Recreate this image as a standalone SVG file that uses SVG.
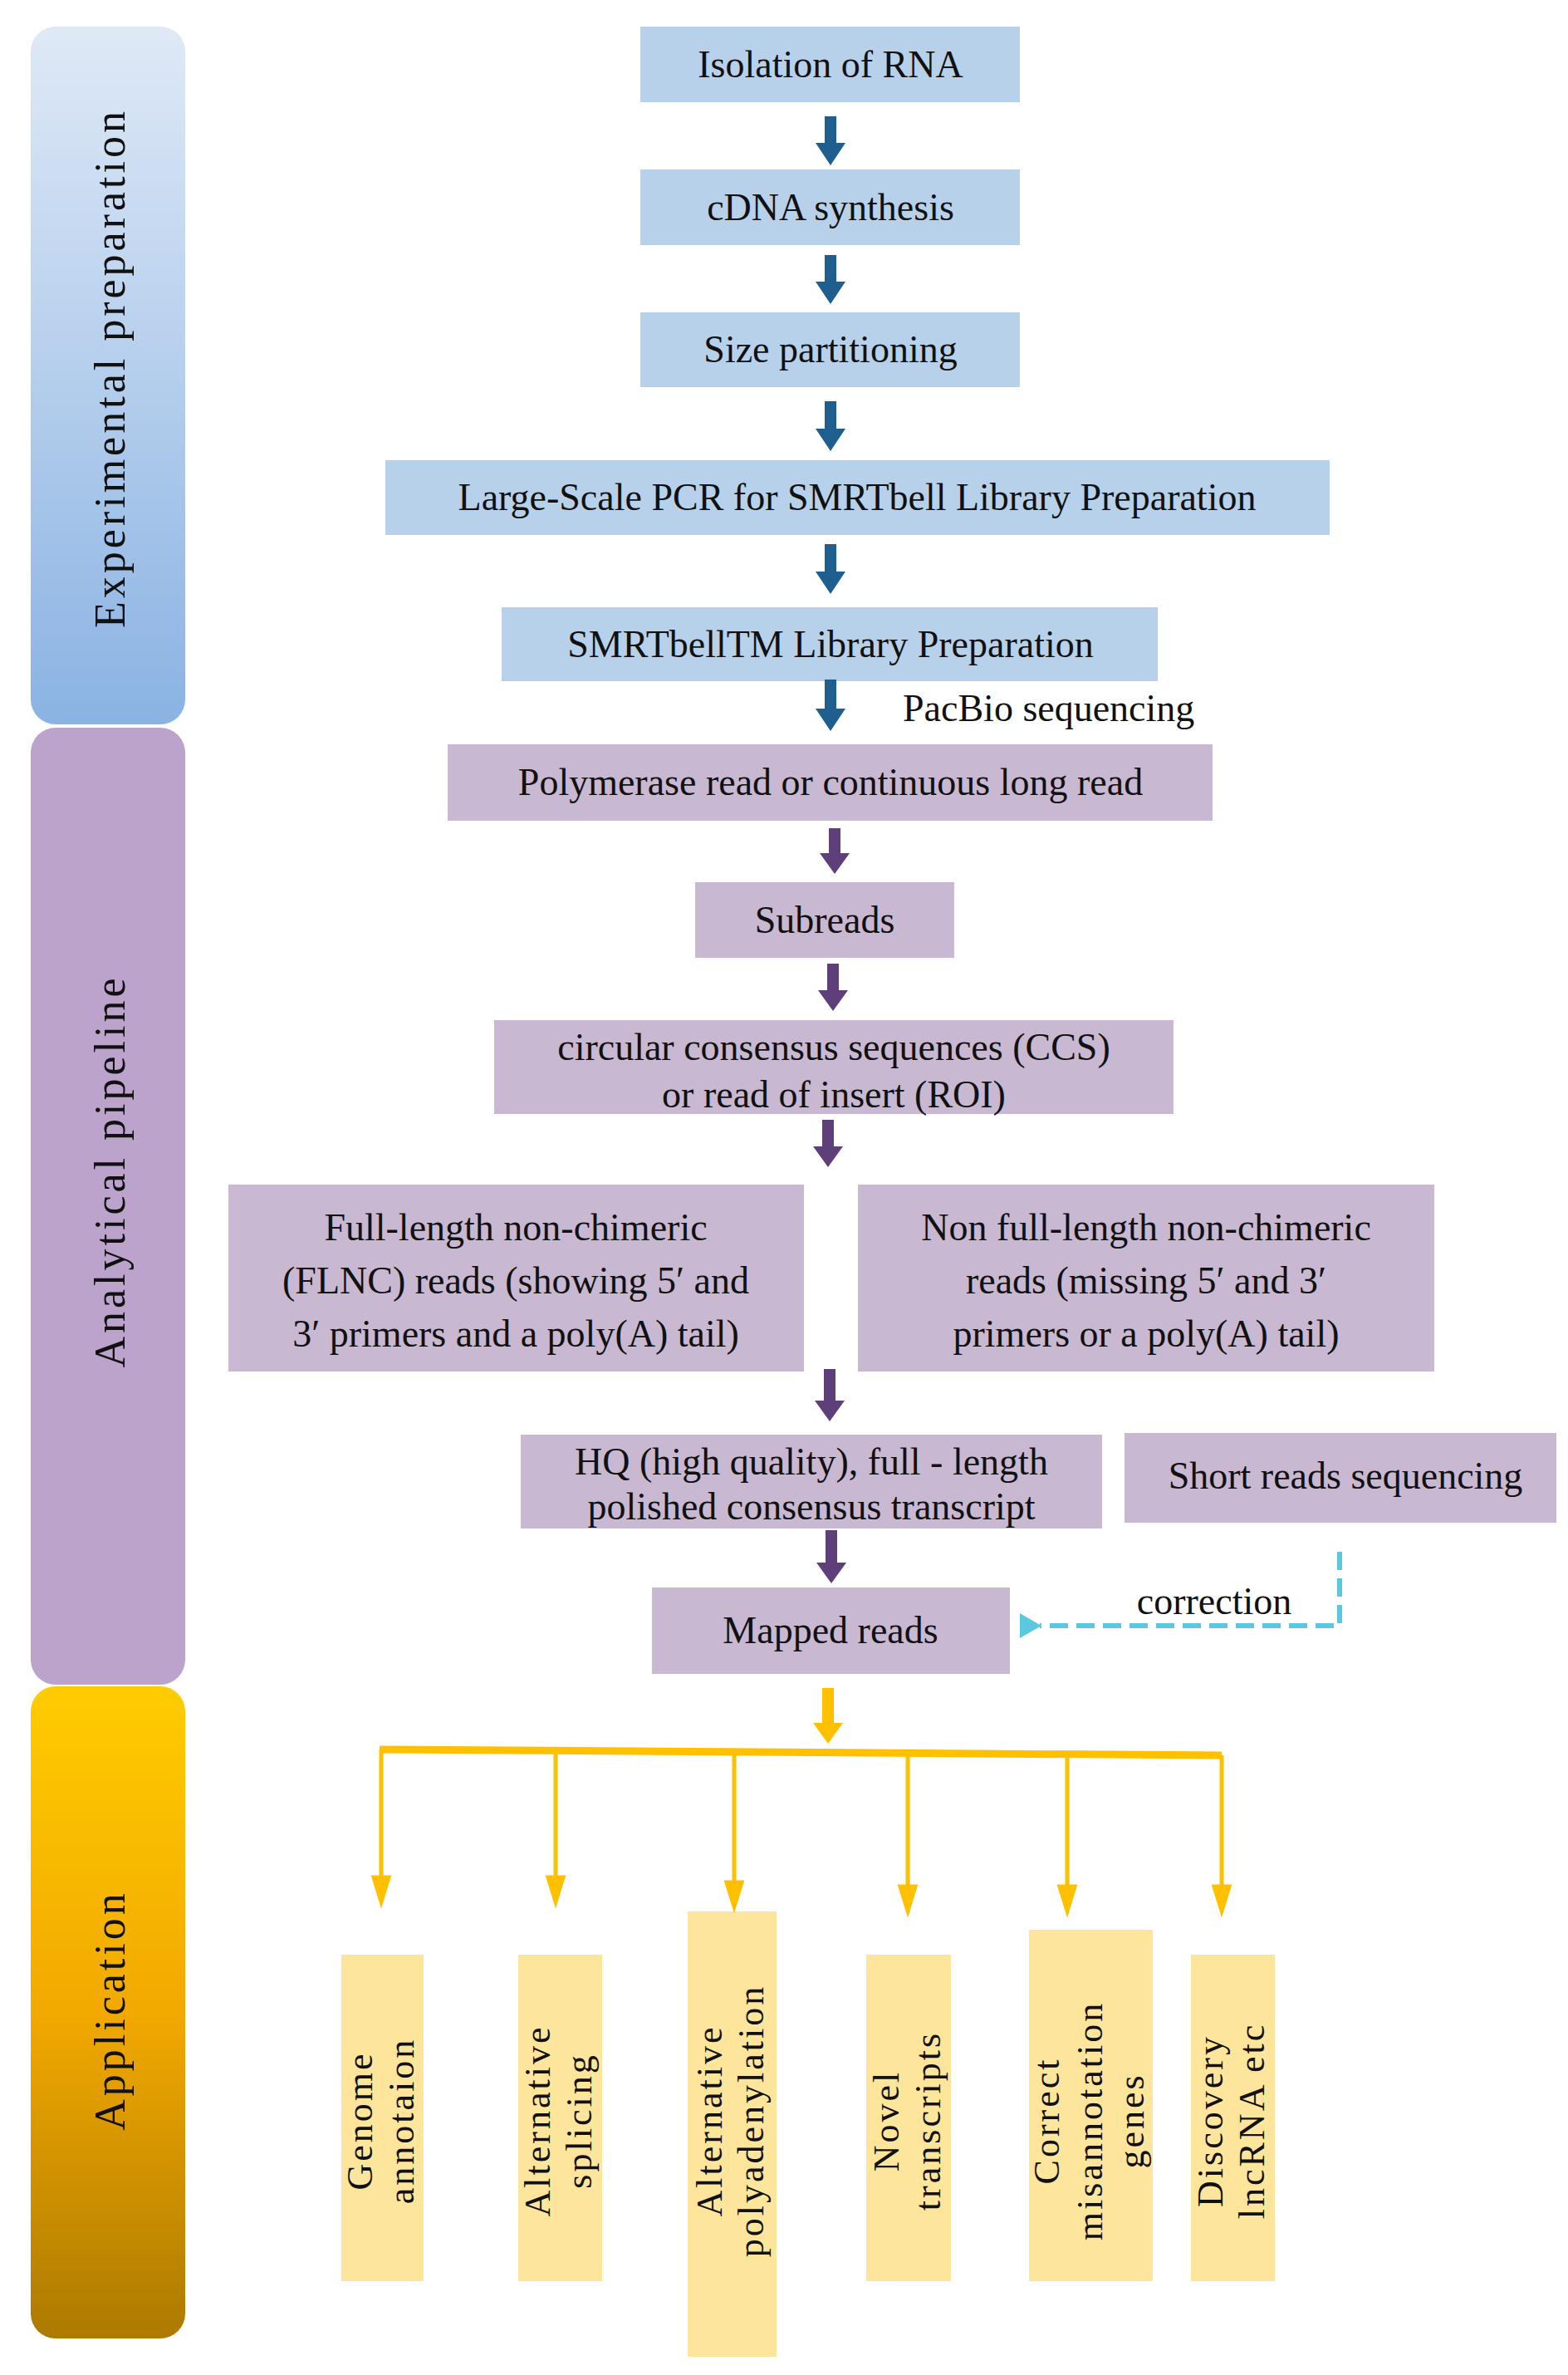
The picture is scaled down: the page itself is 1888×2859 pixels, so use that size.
<svg xmlns="http://www.w3.org/2000/svg" width="1888" height="2859" viewBox="0 0 1888 2859">
<style>
.t{font-family:"Liberation Serif","DejaVu Serif",serif;font-size:46px;fill:#111;text-anchor:middle}
.s{font-family:"Liberation Serif","DejaVu Serif",serif;font-size:52px;fill:#111;text-anchor:middle;letter-spacing:4px}
.v{font-family:"Liberation Serif","DejaVu Serif",serif;font-size:44px;fill:#111;text-anchor:middle;letter-spacing:3px}
.b{fill:#b8d1ea}.p{fill:#c8b8d2}.y{fill:#fde59b}
</style>
<defs>
<linearGradient id="g1" x1="0" y1="0" x2="0" y2="1"><stop offset="0" stop-color="#dfe9f6"/><stop offset="1" stop-color="#8ab3e3"/></linearGradient>
<linearGradient id="g3" x1="0" y1="0" x2="0" y2="1"><stop offset="0" stop-color="#ffcc00"/><stop offset="0.5" stop-color="#f2a900"/><stop offset="1" stop-color="#ad7a00"/></linearGradient>
<marker id="ay" markerWidth="6" markerHeight="8" refX="5" refY="4" orient="auto" markerUnits="userSpaceOnUse" viewBox="0 0 6 8"><path d="M0,0L6,4L0,8z" fill="#ffc000"/></marker>
<marker id="ac" markerWidth="26" markerHeight="30" refX="2" refY="15" orient="auto" markerUnits="userSpaceOnUse"><path d="M26,0L0,15L26,30z" fill="#5bc8e0"/></marker>
</defs>
<g id="side">
<rect x="37" y="32" width="186" height="840" rx="30" fill="url(#g1)"/>
<rect x="37" y="876" width="186" height="1152" rx="30" fill="#bca3cc"/>
<rect x="37" y="2030" width="186" height="785" rx="30" fill="url(#g3)"/>
<text class="s" transform="translate(150,443) rotate(-90)">Experimental  preparation</text>
<text class="s" transform="translate(150,1410) rotate(-90)">Analytical  pipeline</text>
<text class="s" transform="translate(150,2420) rotate(-90)">Application</text>
</g>
<g id="n1"><rect class="b" x="771" y="32" width="457" height="91"/><text class="t" x="1000" y="93">Isolation of RNA</text></g>
<g id="n2"><rect class="b" x="771" y="204" width="457" height="91"/><text class="t" x="1000" y="265">cDNA synthesis</text></g>
<g id="n3"><rect class="b" x="771" y="376" width="457" height="90"/><text class="t" x="1000" y="436">Size partitioning</text></g>
<g id="n4"><rect class="b" x="464" y="554" width="1137" height="90"/><text class="t" x="1032" y="614">Large-Scale PCR for SMRTbell Library Preparation</text></g>
<g id="n5"><rect class="b" x="604" y="731" width="790" height="89"/><text class="t" x="1000" y="791">SMRTbellTM Library Preparation</text></g>
<text class="t" x="1087" y="868" style="text-anchor:start">PacBio sequencing</text>
<g id="n6"><rect class="p" x="539" y="896" width="921" height="92"/><text class="t" x="1000" y="957">Polymerase read or continuous  long read</text></g>
<g id="n7"><rect class="p" x="837" y="1062" width="312" height="91"/><text class="t" x="993" y="1123">Subreads</text></g>
<g id="n8"><rect class="p" x="595" y="1228" width="818" height="113"/><text class="t" x="1004" y="1276">circular consensus  sequences (CCS)</text><text class="t" x="1004" y="1333">or  read of insert (ROI)</text></g>
<g id="n9"><rect class="p" x="275" y="1426" width="693" height="225"/><text class="t" x="621" y="1493">Full-length non-chimeric</text><text class="t" x="621" y="1557">(FLNC) reads (showing 5′ and</text><text class="t" x="621" y="1621">3′ primers and a poly(A) tail)</text></g>
<g id="n10"><rect class="p" x="1033" y="1426" width="694" height="225"/><text class="t" x="1380" y="1493">Non full-length non-chimeric</text><text class="t" x="1380" y="1557">reads (missing 5′ and 3′</text><text class="t" x="1380" y="1621">primers or a poly(A) tail)</text></g>
<g id="n11"><rect class="p" x="627" y="1727" width="700" height="113"/><text class="t" x="977" y="1775">HQ (high quality),  full - length</text><text class="t" x="977" y="1829">polished   consensus   transcript</text></g>
<g id="n12"><rect class="p" x="1354" y="1725" width="520" height="108"/><text class="t" x="1620" y="1792">Short reads sequencing</text></g>
<g id="n13"><rect class="p" x="785" y="1911" width="431" height="104"/><text class="t" x="1000" y="1978">Mapped reads</text></g>
<g id="apps">
<rect class="y" x="411" y="2353" width="99" height="393"/><text class="v" transform="translate(460,2553) rotate(-90)"><tspan x="0" y="-12">Genome</tspan><tspan x="0" y="38">annotaion</tspan></text>
<rect class="y" x="624" y="2353" width="101" height="393"/><text class="v" transform="translate(674,2553) rotate(-90)"><tspan x="0" y="-12">Alternative</tspan><tspan x="0" y="38">splicing</tspan></text>
<rect class="y" x="828" y="2301" width="107" height="536"/><text class="v" transform="translate(881,2553) rotate(-90)"><tspan x="0" y="-12">Alternative</tspan><tspan x="0" y="38">polyadenylation</tspan></text>
<rect class="y" x="1043" y="2353" width="102" height="393"/><text class="v" transform="translate(1094,2553) rotate(-90)"><tspan x="0" y="-12">Novel</tspan><tspan x="0" y="38">transcripts</tspan></text>
<rect class="y" x="1239" y="2323" width="149" height="423"/><text class="v" transform="translate(1313,2553) rotate(-90)"><tspan x="0" y="-38">Correct</tspan><tspan x="0" y="14">misannotation</tspan><tspan x="0" y="64">genes</tspan></text>
<rect class="y" x="1434" y="2353" width="101" height="393"/><text class="v" transform="translate(1484,2553) rotate(-90)"><tspan x="0" y="-12">Discovery</tspan><tspan x="0" y="38">lncRNA etc</tspan></text>
</g>
<g id="connectors">
<g fill="#1f5f8f">
<path d="M993,140h14v32h11l-18,27l-18,-27h11z"/>
<path d="M993,307h14v32h11l-18,27l-18,-27h11z"/>
<path d="M993,483h14v33h11l-18,27l-18,-27h11z"/>
<path d="M993,655h14v33h11l-18,27l-18,-27h11z"/>
<path d="M993,818h14v35h11l-18,27l-18,-27h11z"/>
</g>
<g fill="#5e3f7a">
<path d="M998,997h14v30h11l-18,25l-18,-25h11z"/>
<path d="M996,1160h14v32h11l-18,25l-18,-25h11z"/>
<path d="M990,1348h14v32h11l-18,25l-18,-25h11z"/>
<path d="M992,1648h14v38h11l-18,25l-18,-25h11z"/>
<path d="M994,1842h14v39h11l-18,25l-18,-25h11z"/>
</g>
<path d="M990,2032h14v42h11l-18,25l-18,-25h11z" fill="#ffc000"/>
<path d="M457,2106L1471,2113" stroke="#ffc000" stroke-width="9" fill="none"/>
<g stroke="#ffc000" stroke-width="5" fill="#ffc000">
<path d="M459,2106V2262"/><path d="M450,2260h18l-9,29z"/>
<path d="M669,2108V2262"/><path d="M660,2260h18l-9,29z"/>
<path d="M884,2109V2268"/><path d="M875,2266h18l-9,29z"/>
<path d="M1093,2110V2273"/><path d="M1084,2271h18l-9,29z"/>
<path d="M1285,2111V2273"/><path d="M1276,2271h18l-9,29z"/>
<path d="M1471,2113V2273"/><path d="M1462,2271h18l-9,29z"/>
</g>
<path d="M1613,1868V1957H1252" stroke="#5bc8e0" stroke-width="6" stroke-dasharray="22,10" fill="none" marker-end="url(#ac)"/>
<text class="t" x="1462" y="1943">correction</text>
</g>
</svg>
